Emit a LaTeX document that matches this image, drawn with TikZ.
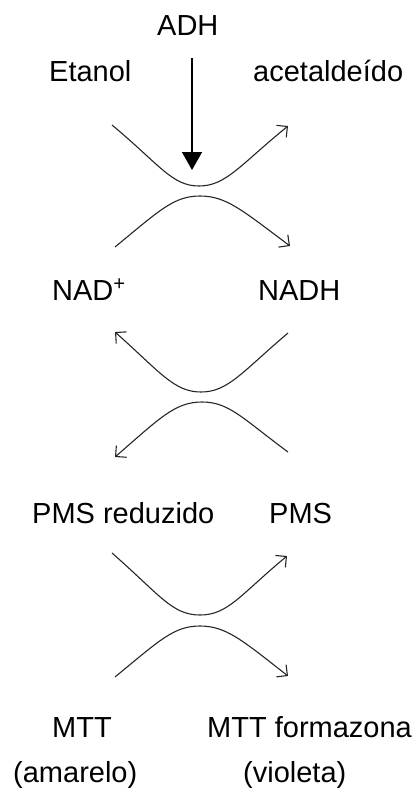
\documentclass[tikz,border=0pt]{standalone}
\usepackage{fontspec}
\setmainfont{Liberation Sans}
\usetikzlibrary{arrows.meta}
\begin{document}
\begin{tikzpicture}[x=1pt,y=-1pt,
  lbl/.style={anchor=base west,inner sep=0pt,font=\fontsize{29}{34}\selectfont},
  crv/.style={line width=1.1pt,draw=black!85},
  barb/.tip={Straight Barb[angle=90:11pt,line width=1.1pt]},
  enz/.style={line width=1.5pt,-{Triangle[width=20pt,length=18pt]}}]
\useasboundingbox (0,0) rectangle (418,796);
% labels
\node[lbl] (adh) at (157,35) {ADH};
\node[lbl] (etanol) at (49,81) {Etanol};
\node[lbl] (acet) at (253,81) {acetalde\'ido};
\node[lbl] (nad) at (52,300) {NAD\textsuperscript{+}};
\node[lbl] (nadh) at (258,300) {NADH};
\node[lbl] (pmsr) at (32,523) {PMS reduzido};
\node[lbl] (pms) at (269,523) {PMS};
\node[lbl] (mtt) at (52,737) {MTT};
\node[lbl] (mttf) at (207,737) {MTT formazona};
\node[lbl] (amar) at (13,782) {(amarelo)};
\node[lbl] (viol) at (243,782) {(violeta)};
% enzyme arrow
\coordinate (a1) at (192,58);
\coordinate (a2) at (192,170);
\draw[enz] (a1) -- (a2);
% set 1
\draw[crv,-barb] (112,125) .. controls (160,165) and (172,186) .. (199,186)
  .. controls (226,186) and (240,165) .. (288,126);
\draw[crv,-barb] (115,247) .. controls (160,210) and (174,196) .. (200,196)
  .. controls (226,196) and (242,210) .. (290,246);
% set 2
\draw[crv,barb-] (115,332) .. controls (160,372) and (174,392) .. (201,392)
  .. controls (228,392) and (242,372) .. (288,333);
\draw[crv,barb-] (115,457) .. controls (160,418) and (175,402) .. (202,402)
  .. controls (229,402) and (242,418) .. (288,452);
% set 3
\draw[crv,-barb] (112,553) .. controls (160,595) and (172,615) .. (200,615)
  .. controls (228,615) and (240,595) .. (287,556);
\draw[crv,-barb] (115,677) .. controls (160,640) and (174,626) .. (200,626)
  .. controls (226,626) and (242,640) .. (288,676);
\end{tikzpicture}
\end{document}
